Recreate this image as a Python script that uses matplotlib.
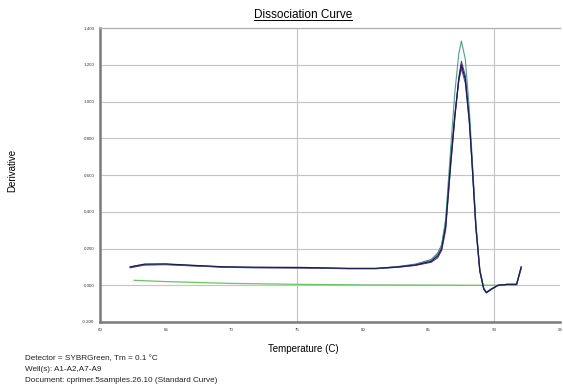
import numpy as np
import matplotlib
matplotlib.use('Agg')
import matplotlib.pyplot as plt
from matplotlib.lines import Line2D

plt.rcParams['font.family'] = ['Liberation Sans', 'DejaVu Sans']

# ---- melt curve data (derivative vs temperature)
temp = [62.3, 63.4, 65.0, 67.2, 69.5, 71.7, 75.2, 78.9, 81.0, 82.7, 84.0, 85.2, 85.7,
        86.0, 86.3, 86.5, 86.7, 87.0, 87.3, 87.5, 87.8, 88.1, 88.3, 88.6, 88.9, 89.2,
        89.4, 89.8, 90.3, 91.0, 91.7, 92.05]

well_a1 = [0.100, 0.115, 0.116, 0.108, 0.100, 0.098, 0.097, 0.092, 0.092, 0.100, 0.110, 0.130, 0.160,
           0.200, 0.320, 0.500, 0.680, 0.920, 1.120, 1.200, 1.120, 0.900, 0.680, 0.320, 0.080, -0.020,
           -0.040, -0.020, 0.000, 0.005, 0.005, 0.100]
well_a2 = [0.095, 0.110, 0.112, 0.105, 0.098, 0.095, 0.094, 0.090, 0.090, 0.098, 0.108, 0.125, 0.150,
           0.190, 0.300, 0.480, 0.660, 0.910, 1.130, 1.220, 1.140, 0.910, 0.690, 0.330, 0.085, -0.015,
           -0.038, -0.020, 0.000, 0.005, 0.005, 0.095]
well_a7 = [0.098, 0.112, 0.114, 0.106, 0.099, 0.097, 0.095, 0.091, 0.091, 0.102, 0.115, 0.140, 0.175,
           0.220, 0.340, 0.520, 0.700, 0.930, 1.110, 1.180, 1.100, 0.890, 0.670, 0.310, 0.075, -0.022,
           -0.042, -0.022, 0.000, 0.004, 0.004, 0.090]
well_a8 = [0.100, 0.114, 0.115, 0.107, 0.100, 0.097, 0.096, 0.091, 0.091, 0.100, 0.112, 0.135, 0.170,
           0.220, 0.360, 0.560, 0.760, 1.050, 1.260, 1.330, 1.230, 0.960, 0.720, 0.340, 0.085, -0.018,
           -0.038, -0.018, 0.000, 0.005, 0.005, 0.100]

ntc_temp = [62.6, 65.0, 70.0, 75.0, 80.0, 85.0, 88.0, 90.0, 91.7]
ntc_a9 = [0.027, 0.020, 0.010, 0.005, 0.002, 0.001, 0.000, 0.000, 0.000]

xticks = [60, 65, 70, 75, 80, 85, 90, 95]
yticks = [-0.2, 0.0, 0.2, 0.4, 0.6, 0.8, 1.0, 1.2, 1.4]

# ---- plotting
fig = plt.figure(figsize=(5.63, 3.91), dpi=100)
ax = fig.add_axes([0.1776, 0.1765, 0.8170, 0.7515])

ax.set_xlim(60, 95)
ax.set_ylim(-0.2, 1.4)

ax.plot(ntc_temp, ntc_a9, '-', color='#66c466', lw=0.9)
ax.plot(temp, well_a7, '-', color='#5a5ab0', lw=0.8)
ax.plot(temp, well_a2, '-', color='#6a3a88', lw=0.8)
ax.plot(temp, well_a8, '-', color='#4aa08a', lw=0.8)
ax.plot(temp, well_a1, '-', color='#1c1c50', lw=0.9)

ax.set_yticks(yticks)
ax.set_yticklabels(['%.3f' % v for v in yticks], fontsize=3.2, color='#333333')
ax.set_xticks(xticks)
ax.set_xticklabels([str(v) for v in xticks], fontsize=3.2, color='#333333')
ax.tick_params(length=0, pad=4)

ax.grid(False)
for v in yticks:
    ax.axhline(v, color='#c4c4c4', lw=0.8, zorder=0)
for v in [75, 90]:
    ax.axvline(v, color='#c4c4c4', lw=0.8, zorder=0)

ax.spines['left'].set_color('#7a7a7a'); ax.spines['left'].set_linewidth(1.8)
ax.spines['bottom'].set_color('#7a7a7a'); ax.spines['bottom'].set_linewidth(1.8)
ax.spines['top'].set_color('#b0b0b0'); ax.spines['top'].set_linewidth(0.9)
ax.spines['right'].set_visible(False)

ax.set_xlabel('Temperature (C)', fontsize=7)
ax.xaxis.set_label_coords((303 - 100) / 460.0, -0.075)
fig.text(0.021, 0.565, 'Derivative', rotation=90, fontsize=7, ha='center', va='center')

# underlined title
title = fig.text(0.538, 0.962, 'Dissociation Curve', fontsize=8.5, ha='center', va='center')
fig.canvas.draw()
bb = title.get_window_extent().transformed(fig.transFigure.inverted())
fig.add_artist(Line2D([bb.x0, bb.x1], [bb.y0 + 0.002, bb.y0 + 0.002], color='k', lw=0.7))

footer = ['Detector = SYBRGreen, Tm = 0.1 \u00b0C',
          'Well(s): A1-A2,A7-A9',
          'Document: cprimer.5samples.26.10 (Standard Curve)']
for i, line in enumerate(footer):
    fig.text(0.044, (391 - 359 - i * 10.5) / 391.0, line, fontsize=5.9, ha='left', va='center',
             color='#222222')

fig.savefig('out.png', dpi=100)
